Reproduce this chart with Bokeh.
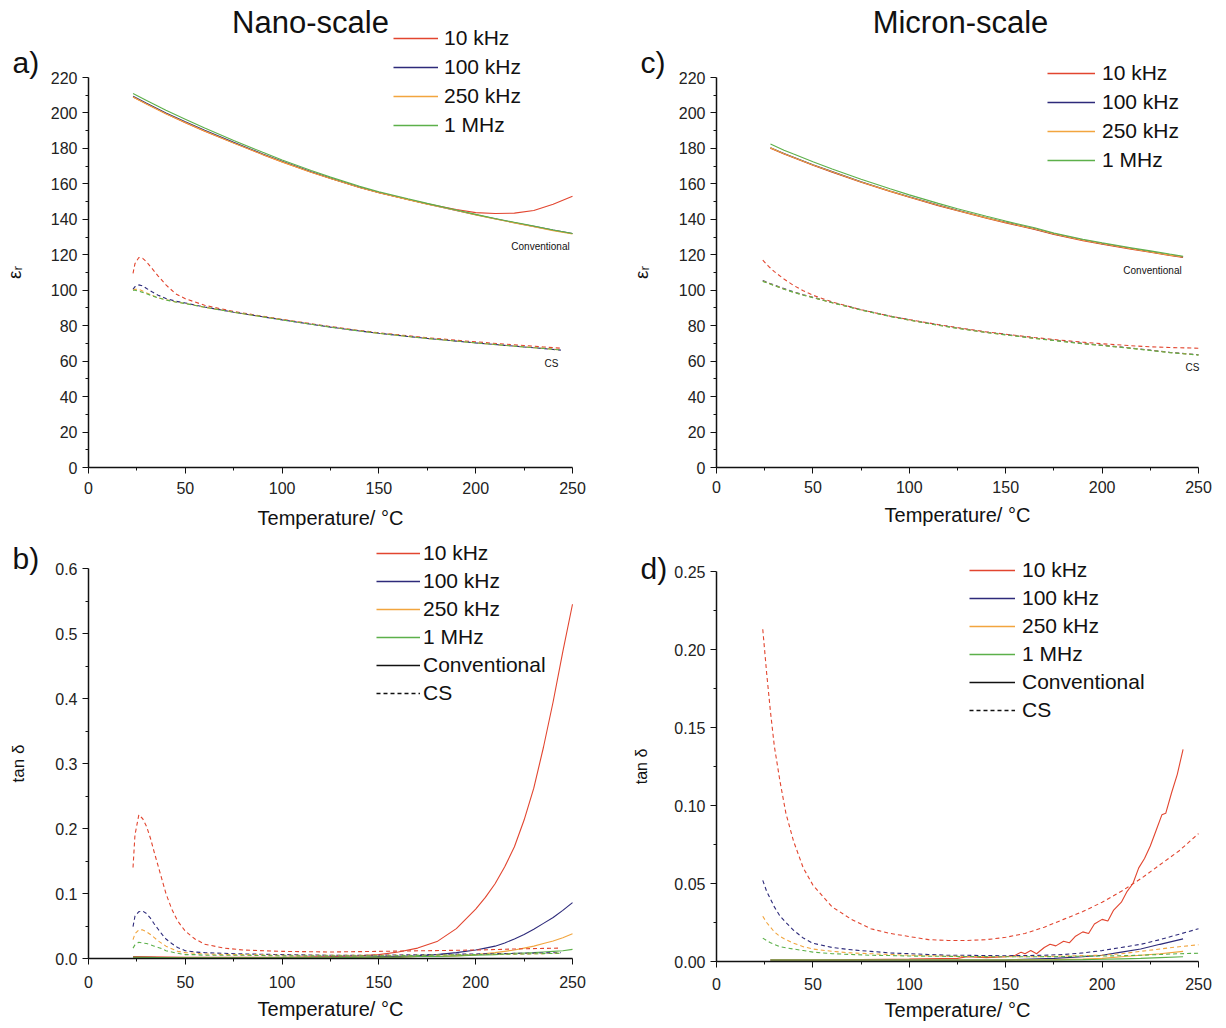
from bokeh.plotting import figure
from bokeh.layouts import column, row
from bokeh.models import Range1d, FixedTicker, NumeralTickFormatter, Legend, LegendItem, Label
from bokeh.embed import file_html
from bokeh.resources import INLINE

FONT = "Liberation Sans"
FREQS = ["10 kHz", "100 kHz", "250 kHz", "1 MHz"]
COLORS = ["#e2452f", "#2d2a7a", "#f2a53e", "#5cb04a"]

X_TICKS = [0, 50, 100, 150, 200, 250]
X_MINOR = [25, 75, 125, 175, 225]
EPS_TICKS = [0, 20, 40, 60, 80, 100, 120, 140, 160, 180, 200, 220]
EPS_MINOR = [10, 30, 50, 70, 90, 110, 130, 150, 170, 190, 210]
TAN_B_TICKS = [0.0, 0.1, 0.2, 0.3, 0.4, 0.5, 0.6]
TAN_B_MINOR = [0.05, 0.15, 0.25, 0.35, 0.45, 0.55]
TAN_D_TICKS = [0.0, 0.05, 0.10, 0.15, 0.20, 0.25]
TAN_D_MINOR = [0.025, 0.075, 0.125, 0.175, 0.225]

# ---------------- a) Nano-scale permittivity ----------------
T_a_conv = [23, 30, 40, 50, 60, 75, 90, 100, 115, 125, 140, 150, 165, 175, 190, 200, 210, 220, 230, 240, 250]
a_conv_10k = [209, 205, 199.5, 194.5, 189.7, 183, 176.5, 172.3, 166.5, 163, 158, 155, 151.2, 148.7, 145.5, 143.8, 143.3, 143.5, 145, 148.5, 153]
a_conv_100k = [209.5, 205.5, 200, 195, 190.2, 183.4, 176.9, 172.7, 166.8, 163.2, 158.1, 155.1, 151.2, 148.6, 145, 142.6, 140.3, 138.1, 136, 133.9, 132]
a_conv_250k = [209, 205, 199.6, 194.6, 189.8, 183.1, 176.6, 172.4, 166.6, 163, 158, 155, 151.1, 148.5, 145, 142.5, 140.2, 138, 135.8, 133.6, 131.7]
a_conv_1M = [211, 207, 201.5, 196.5, 191.5, 184.5, 177.8, 173.5, 167.5, 163.8, 158.6, 155.6, 151.6, 149, 145.3, 142.8, 140.5, 138.3, 136.2, 134, 132]

T_a_cs = [23, 24, 26, 28, 30, 33, 36, 40, 45, 50, 60, 75, 90, 100, 115, 125, 140, 150, 165, 175, 190, 200, 215, 225, 235, 244]
a_cs_10k = [109.5, 115, 118.5, 118, 116, 112, 108, 103, 98, 95.2, 91.5, 88, 85.3, 83.6, 81.1, 79.5, 77.3, 76, 74.3, 73.2, 71.8, 70.9, 69.6, 68.8, 68, 67.3]
a_cs_100k = [100.5, 102, 103, 102.5, 101, 99, 97.2, 95.3, 93.8, 92.8, 90.5, 87.6, 85, 83.3, 80.8, 79.2, 77, 75.7, 73.9, 72.8, 71.3, 70.3, 68.9, 68, 67.1, 66.2]
a_cs_250k = [100, 100.5, 100.5, 99.5, 98.5, 97, 95.8, 94.6, 93.4, 92.5, 90.4, 87.6, 85, 83.3, 80.8, 79.2, 77, 75.7, 73.9, 72.8, 71.3, 70.3, 68.9, 68, 67.2, 66.3]
a_cs_1M = [100, 100, 99.5, 98.8, 98, 96.8, 95.7, 94.5, 93.4, 92.5, 90.4, 87.6, 85, 83.3, 80.8, 79.2, 77, 75.7, 73.9, 72.8, 71.3, 70.3, 68.9, 68, 67.2, 66.3]

# ---------------- c) Micron-scale permittivity ----------------
T_c_conv = [28, 35, 40, 50, 60, 75, 90, 100, 115, 125, 140, 150, 165, 175, 190, 200, 215, 225, 235, 242]
c_conv_10k = [180.1, 176.8, 174.7, 170.5, 166.6, 160.9, 155.7, 152.4, 147.7, 144.8, 140.6, 138, 134.3, 131.5, 128, 126, 123.2, 121.4, 119.6, 118.5]
c_conv_100k = [180.4, 177.1, 175, 170.8, 166.9, 161.2, 156, 152.7, 148, 145.1, 140.9, 138.3, 134.6, 131.8, 128.3, 126.3, 123.5, 121.7, 119.9, 118.8]
c_conv_250k = [180.3, 177, 174.9, 170.7, 166.8, 161.1, 155.9, 152.6, 147.9, 145, 140.8, 138.2, 134.5, 131.7, 128.2, 126.2, 123.4, 121.6, 119.8, 118.7]
c_conv_1M = [182.5, 179, 176.8, 172.5, 168.4, 162.6, 157.2, 153.8, 149, 146, 141.7, 139, 135.2, 132.3, 128.8, 126.8, 124, 122.2, 120.4, 119.2]

T_c_cs = [24, 27, 30, 35, 40, 45, 50, 60, 75, 90, 100, 115, 125, 140, 150, 165, 175, 190, 200, 215, 225, 235, 250]
c_cs_10k = [117, 113.5, 110.5, 106.3, 102.7, 99.7, 97.2, 93.4, 89, 85.4, 83.4, 80.6, 78.9, 76.5, 75.2, 73.3, 72.2, 70.7, 69.8, 68.7, 68.1, 67.7, 67.3]
c_cs_100k = [105.5, 104.1, 102.9, 100.9, 99.1, 97.5, 96, 93.1, 89, 85.4, 83.3, 80.4, 78.7, 76.3, 75, 73, 71.8, 70, 69, 67.4, 66.2, 65, 63.6]
c_cs_250k = [105.2, 103.9, 102.7, 100.7, 98.9, 97.3, 95.9, 93, 88.9, 85.3, 83.2, 80.3, 78.6, 76.2, 74.9, 72.9, 71.7, 69.9, 68.9, 67.3, 66.1, 64.9, 63.5]
c_cs_1M = [105, 103.8, 102.6, 100.6, 98.8, 97.2, 95.8, 92.9, 88.8, 85.2, 83.1, 80.2, 78.5, 76.1, 74.8, 72.8, 71.6, 69.8, 68.8, 67.2, 66, 64.8, 63.4]

# ---------------- b) Nano-scale tan delta ----------------
T_b_conv = [23, 50, 75, 100, 125, 140, 150, 160, 170, 180, 190, 200, 205, 210, 215, 220, 225, 230, 235, 240, 245, 250]
b_conv_10k = [0.003, 0.002, 0.002, 0.002, 0.003, 0.004, 0.006, 0.010, 0.016, 0.026, 0.046, 0.076, 0.094, 0.115, 0.141, 0.172, 0.213, 0.262, 0.325, 0.395, 0.472, 0.545]
b_conv_100k = [0.002, 0.001, 0.001, 0.001, 0.002, 0.002, 0.003, 0.003, 0.004, 0.006, 0.009, 0.013, 0.016, 0.019, 0.024, 0.030, 0.037, 0.045, 0.054, 0.063, 0.074, 0.086]
b_conv_250k = [0.002, 0.001, 0.001, 0.001, 0.001, 0.002, 0.002, 0.002, 0.003, 0.003, 0.004, 0.006, 0.0075, 0.009, 0.011, 0.013, 0.016, 0.019, 0.023, 0.027, 0.032, 0.038]
b_conv_1M = [0.002, 0.001, 0.001, 0.001, 0.001, 0.002, 0.002, 0.002, 0.003, 0.003, 0.004, 0.005, 0.0055, 0.006, 0.007, 0.008, 0.0085, 0.009, 0.010, 0.011, 0.012, 0.014]

T_b_cs = [23, 24, 26, 28, 30, 32, 34, 36, 38, 40, 43, 46, 50, 55, 60, 70, 80, 100, 125, 150, 175, 200, 225, 244]
b_cs_10k = [0.14, 0.19, 0.221, 0.215, 0.203, 0.185, 0.163, 0.142, 0.121, 0.100, 0.076, 0.058, 0.042, 0.030, 0.022, 0.016, 0.013, 0.011, 0.010, 0.011, 0.012, 0.013, 0.015, 0.016]
b_cs_100k = [0.049, 0.065, 0.072, 0.073, 0.069, 0.062, 0.053, 0.045, 0.037, 0.030, 0.023, 0.017, 0.012, 0.010, 0.009, 0.008, 0.007, 0.006, 0.005, 0.005, 0.006, 0.007, 0.008, 0.009]
b_cs_250k = [0.029, 0.038, 0.044, 0.044, 0.041, 0.037, 0.032, 0.027, 0.023, 0.019, 0.015, 0.011, 0.009, 0.008, 0.007, 0.006, 0.006, 0.005, 0.005, 0.005, 0.005, 0.006, 0.007, 0.008]
b_cs_1M = [0.016, 0.021, 0.025, 0.024, 0.023, 0.021, 0.019, 0.017, 0.015, 0.012, 0.010, 0.008, 0.006, 0.006, 0.005, 0.005, 0.005, 0.004, 0.004, 0.004, 0.005, 0.006, 0.007, 0.008]

# ---------------- d) Micron-scale tan delta ----------------
T_d_red = [28, 50, 75, 100, 125, 130, 140, 150, 155, 158, 160, 163, 166, 170, 173, 176, 180, 183, 186, 190, 193, 196, 200, 203, 206, 210, 213, 216, 219, 222, 225, 228, 231, 233, 236, 239, 242]
d_conv_10k = [0.001, 0.001, 0.0012, 0.0015, 0.002, 0.003, 0.0025, 0.003, 0.004, 0.006, 0.005, 0.007, 0.005, 0.009, 0.011, 0.010, 0.013, 0.012, 0.016, 0.019, 0.018, 0.024, 0.027, 0.026, 0.033, 0.038, 0.045, 0.050, 0.060, 0.066, 0.074, 0.084, 0.094, 0.095, 0.108, 0.120, 0.136]
T_d_conv = [28, 50, 75, 100, 125, 150, 175, 190, 200, 210, 220, 230, 242]
d_conv_100k = [0.001, 0.001, 0.001, 0.001, 0.001, 0.001, 0.002, 0.003, 0.004, 0.006, 0.008, 0.011, 0.0145]
d_conv_250k = [0.001, 0.001, 0.001, 0.001, 0.001, 0.001, 0.0012, 0.0015, 0.002, 0.003, 0.004, 0.005, 0.0065]
d_conv_1M = [0.001, 0.001, 0.001, 0.001, 0.001, 0.001, 0.001, 0.0012, 0.0014, 0.0017, 0.002, 0.0025, 0.003]

T_d_cs = [24, 26, 28, 30, 33, 36, 40, 45, 50, 60, 70, 80, 90, 100, 110, 120, 130, 140, 150, 160, 170, 180, 190, 200, 210, 220, 230, 240, 250]
d_cs_10k = [0.213, 0.185, 0.160, 0.138, 0.115, 0.095, 0.077, 0.060, 0.049, 0.035, 0.027, 0.021, 0.018, 0.016, 0.014, 0.0135, 0.0135, 0.014, 0.0155, 0.018, 0.022, 0.027, 0.032, 0.038, 0.045, 0.053, 0.062, 0.071, 0.082]
d_cs_100k = [0.052, 0.045, 0.040, 0.035, 0.029, 0.025, 0.020, 0.015, 0.0117, 0.009, 0.0075, 0.0065, 0.0055, 0.005, 0.0045, 0.004, 0.004, 0.0038, 0.0037, 0.0038, 0.004, 0.0045, 0.0055, 0.007, 0.009, 0.011, 0.014, 0.0175, 0.021]
d_cs_250k = [0.029, 0.025, 0.022, 0.019, 0.016, 0.014, 0.0117, 0.0095, 0.008, 0.0065, 0.0055, 0.005, 0.0045, 0.004, 0.0037, 0.0034, 0.0032, 0.0031, 0.003, 0.003, 0.0032, 0.0035, 0.0038, 0.004, 0.005, 0.0065, 0.008, 0.0095, 0.0107]
d_cs_1M = [0.015, 0.0135, 0.012, 0.011, 0.0095, 0.0088, 0.008, 0.007, 0.006, 0.005, 0.0045, 0.004, 0.0038, 0.0035, 0.0034, 0.0033, 0.0032, 0.0031, 0.003, 0.003, 0.0031, 0.0032, 0.0034, 0.0035, 0.0037, 0.004, 0.0045, 0.005, 0.0053]

DASH = "4 3"
NAN = float("nan")


class Panel:
    """Figure whose frame fills the whole canvas; axes sit at data 0 via fixed_location."""

    def __init__(self, W, H, x0px, x1px, ytop, ybot, ymax, yticks, yminor, yfmt, ylabel,
                 ylab_size, ystandoff, xlab_standoff, xtick_standoff):
        self.W, self.H = W, H
        self.sx = (x1px - x0px) / 250.0
        self.sy = (ybot - ytop) / float(ymax)
        self.xs = -x0px / self.sx
        self.ye = ymax + ytop / self.sy
        xe = 250 + (W - x1px) / self.sx
        ys = -(H - ybot) / self.sy
        p = figure(width=W, height=H, output_backend="svg", toolbar_location=None,
                   x_range=Range1d(self.xs, xe), y_range=Range1d(ys, self.ye),
                   min_border=0, min_border_left=0, min_border_right=0,
                   min_border_top=0, min_border_bottom=0)
        p.outline_line_color = None
        p.grid.visible = False
        p.xaxis.ticker = FixedTicker(ticks=X_TICKS, minor_ticks=X_MINOR)
        p.yaxis.ticker = FixedTicker(ticks=yticks, minor_ticks=yminor)
        if yfmt:
            p.yaxis.formatter = NumeralTickFormatter(format=yfmt)
        p.xaxis.fixed_location = 0
        p.yaxis.fixed_location = 0
        p.xaxis.bounds = (0, 250)
        p.yaxis.bounds = (0, ymax)
        for ax in (p.xaxis[0], p.yaxis[0]):
            ax.axis_line_width = 1.5
            ax.axis_line_color = "#111111"
            ax.major_tick_line_color = "#111111"
            ax.minor_tick_line_color = "#111111"
            ax.major_tick_out = 6
            ax.major_tick_in = 0
            ax.minor_tick_out = 3
            ax.minor_tick_in = 0
            ax.major_label_text_font = FONT
            ax.major_label_text_font_size = "16px"
            ax.major_label_text_color = "#222222"
            ax.axis_label_text_font = FONT
            ax.axis_label_text_font_style = "normal"
            ax.axis_label_text_color = "#111111"
        p.xaxis.major_label_standoff = xtick_standoff
        p.xaxis.axis_label = "Temperature/ °C"
        p.xaxis.axis_label_text_font_size = "20px"
        p.xaxis.axis_label_standoff = xlab_standoff
        p.yaxis.axis_label = ylabel
        p.yaxis.axis_label_text_font_size = ylab_size
        p.yaxis.axis_label_standoff = ystandoff
        self.p = p

    def at(self, px, py):
        return self.xs + px / self.sx, self.ye - py / self.sy

    def text(self, px, py, text, size, align="left"):
        x, y = self.at(px, py)
        self.p.add_layout(Label(x=x, y=y, text=text, text_font=FONT, text_font_size=size,
                                text_color="#111111", text_align=align, text_baseline="middle"))

    def series(self, t_conv_list, conv_list, t_cs_list, cs_list):
        for tc, yc, col in zip(t_conv_list, conv_list, COLORS):
            self.p.line(tc, yc, line_color=col, line_width=1.1)
        for tc, yc, col in zip(t_cs_list, cs_list, COLORS):
            self.p.line(tc, yc, line_color=col, line_width=1.1, line_dash=DASH)

    def legend(self, left_px, bottom_px, extra, spacing, glyph_w, standoff):
        p = self.p
        items = []
        for f, col in zip(FREQS, COLORS):
            r = p.line([NAN], [NAN], line_color=col, line_width=1.4)
            items.append(LegendItem(label=f, renderers=[r]))
        if extra:
            r1 = p.line([NAN], [NAN], line_color="#111111", line_width=1.4)
            r2 = p.line([NAN], [NAN], line_color="#111111", line_width=1.4, line_dash=DASH)
            items.append(LegendItem(label="Conventional", renderers=[r1]))
            items.append(LegendItem(label="CS", renderers=[r2]))
        lg = Legend(items=items, location=(left_px, self.H - bottom_px),
                    label_text_font=FONT, label_text_font_size="21px",
                    label_text_color="#111111", glyph_width=glyph_w, glyph_height=24, label_height=24,
                    label_standoff=standoff, spacing=spacing, padding=5, margin=0,
                    border_line_color=None, background_fill_color="#ffffff", background_fill_alpha=0.85)
        p.add_layout(lg)


# a) figure at page (0, 0)
A = Panel(614, 535, 88, 572, 77, 467, 220, EPS_TICKS, EPS_MINOR, None, "εᵣ", "19px", 23, 10, 8)
A.series([T_a_conv] * 4, [a_conv_10k, a_conv_100k, a_conv_250k, a_conv_1M],
         [T_a_cs] * 4, [a_cs_10k, a_cs_100k, a_cs_250k, a_cs_1M])
A.legend(393, 137, False, 5, 45, 6)
A.text(12, 62, "a)", "30px")
A.text(310, 22, "Nano-scale", "31px", "center")
A.text(540, 246, "Conventional", "10px", "center")
A.text(551, 363, "CS", "10px", "center")

# c) figure at page (614, 0)
C = Panel(608, 535, 102, 584, 77, 467, 220, EPS_TICKS, EPS_MINOR, None, "εᵣ", "19px", 24, 8, 7)
C.series([T_c_conv] * 4, [c_conv_10k, c_conv_100k, c_conv_250k, c_conv_1M],
         [T_c_cs] * 4, [c_cs_10k, c_cs_100k, c_cs_250k, c_cs_1M])
C.legend(433, 172, False, 5, 48, 7)
C.text(26, 62, "c)", "30px")
C.text(346, 22, "Micron-scale", "31px", "center")
C.text(538, 270, "Conventional", "10px", "center")
C.text(578, 367, "CS", "10px", "center")

# b) figure at page (0, 535)
B = Panel(614, 491, 88, 572, 33, 423, 0.6, TAN_B_TICKS, TAN_B_MINOR, "0.0", "tan δ", "17px", 24, 7, 11)
B.series([T_b_conv] * 4, [b_conv_10k, b_conv_100k, b_conv_250k, b_conv_1M],
         [T_b_cs] * 4, [b_cs_10k, b_cs_100k, b_cs_250k, b_cs_1M])
B.legend(376, 170, True, 4, 44, 3)
B.text(12, 23, "b)", "30px")

# d) figure at page (614, 535)
D = Panel(608, 491, 102, 584, 36, 426, 0.25, TAN_D_TICKS, TAN_D_MINOR, "0.00", "tan δ", "16px", 21, 6, 10)
D.series([T_d_red, T_d_conv, T_d_conv, T_d_conv], [d_conv_10k, d_conv_100k, d_conv_250k, d_conv_1M],
         [T_d_cs] * 4, [d_cs_10k, d_cs_100k, d_cs_250k, d_cs_1M])
D.legend(355, 187, True, 4, 46, 7)
D.text(26, 33, "d)", "30px")

layout = column(row(A.p, C.p), row(B.p, D.p))
open("out.html", "w").write(file_html(layout, INLINE))
